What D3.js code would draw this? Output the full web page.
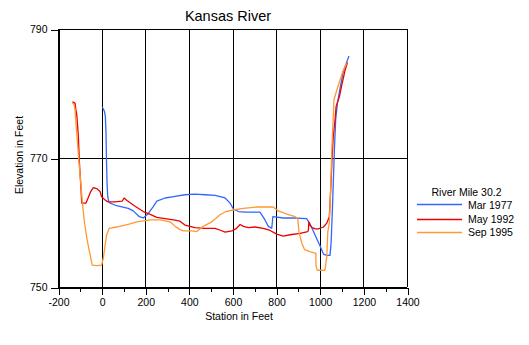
<!DOCTYPE html>
<html>
<head>
<meta charset="utf-8">
<script src="https://cdn.jsdelivr.net/npm/d3@7"></script>
<style>
  html, body { margin: 0; padding: 0; background: #fff; }
  svg { display: block; }
  text { font-family: Arial, "Liberation Sans", Helvetica, sans-serif; fill: #000; }
</style>
</head>
<body>
<div id="chart"></div>
<script>
// ---- data ----
const chartTitle = "Kansas River";
const xTitle = "Station in Feet";
const yTitle = "Elevation in Feet";
const legendTitle = "River Mile 30.2";
const seriesNames = ["Mar 1977", "May 1992", "Sep 1995"];
const seriesColors = ["#3366ff", "#ee0000", "#ff9933"];

const xMajorTicks = [-200, 0, 200, 400, 600, 800, 1000, 1200, 1400];
const xMinorTicks = [-100, 100, 300, 500, 700, 900, 1100, 1300];
const yTicks = [750, 770, 790];

// [station ft, elevation ft]
const mar1977 = [
  [3,777.9],[8,777.6],[13,777.2],[17,776.5],[20,774.0],[22,770.0],[25,766.0],[28,764.0],[33,763.2],
  [39,763.0],[69,762.6],[122,762.2],[145,761.8],[173,760.9],[191,760.7],[214,761.4],[235,762.4],
  [253,763.3],[291,763.8],[330,764.0],[382,764.3],[428,764.4],[475,764.3],[520,764.2],[566,763.8],
  [589,763.0],[604,762.1],[627,761.7],[658,761.6],[703,761.6],[726,761.6],[749,760.4],[764,759.4],
  [780,759.1],[785,760.9],[833,760.7],[879,760.7],[940,760.6],[955,759.8],[978,758.1],[1001,756.4],
  [1017,755.1],[1032,754.9],[1047,754.9],[1052,756.8],[1058,762.0],[1062,766.1],[1067,771.2],
  [1073,775.9],[1081,778.5],[1093,780.8],[1108,783.4],[1124,784.9],[1134,785.8]
];
const may1992 = [
  [-134,778.7],[-122,778.5],[-118,777.5],[-114,776.7],[-107,773.6],[-102,769.4],[-96,766.0],
  [-91,763.0],[-72,763.0],[-62,763.8],[-50,764.8],[-38,765.4],[-20,765.2],[-7,764.8],[0,764.0],
  [12,763.6],[23,763.3],[31,763.2],[60,763.2],[94,763.3],[103,763.8],[116,763.4],[150,762.6],
  [191,761.7],[220,761.3],[253,760.8],[291,760.6],[330,760.4],[359,760.2],[382,759.6],[428,759.2],
  [474,759.1],[520,759.1],[545,758.8],[566,758.5],[597,758.7],[615,759.0],[635,759.7],[650,759.4],
  [673,759.2],[703,759.3],[741,759.1],[770,758.8],[803,758.2],[833,757.9],[864,758.1],[910,758.3],
  [945,758.6],[948,758.8],[950,760.1],[955,759.6],[965,759.2],[980,759.0],[993,759.0],[1017,759.3],
  [1032,759.9],[1044,760.9],[1047,763.0],[1052,766.3],[1056,769.7],[1062,773.3],[1070,775.9],
  [1075,778.0],[1090,779.5],[1101,781.3],[1116,783.6],[1127,784.8]
];
const sep1995 = [
  [-134,778.6],[-125,778.2],[-122,777.5],[-119,775.9],[-111,772.5],[-104,769.4],[-96,766.3],
  [-88,763.0],[-79,760.1],[-68,757.6],[-56,755.5],[-43,753.4],[-22,753.3],[0,753.4],[8,754.5],
  [16,756.5],[23,758.1],[35,759.1],[69,759.3],[122,759.7],[161,760.1],[222,760.4],[268,760.4],
  [314,760.1],[337,759.4],[359,758.9],[375,758.7],[413,758.7],[436,758.6],[466,759.4],[505,760.1],
  [543,761.2],[570,761.7],[597,761.9],[650,762.2],[711,762.4],[787,762.4],[810,761.8],[849,761.3],
  [887,760.9],[899,760.6],[905,758.5],[910,757.8],[918,756.8],[930,755.8],[955,755.5],[982,755.2],
  [983,753.2],[989,752.6],[1024,752.6],[1032,754.7],[1037,758.6],[1044,759.9],[1050,765.1],
  [1055,771.2],[1062,776.4],[1065,779.0],[1078,780.5],[1093,782.1],[1108,783.6],[1124,784.7]
];
const seriesData = [mar1977, may1992, sep1995];

// ---- drawing ----
const W = 529, H = 345;
const svg = d3.select("#chart").append("svg").attr("width", W).attr("height", H);

const x = d3.scaleLinear().domain([-200, 1400]).range([58, 407]);
const y = d3.scaleLinear().domain([750, 790]).range([287, 29]);

// grid
const grid = svg.append("g").attr("shape-rendering", "crispEdges");
grid.selectAll("line.v").data(xMajorTicks).join("line")
  .attr("x1", d => Math.round(x(d)) + 0.5).attr("x2", d => Math.round(x(d)) + 0.5)
  .attr("y1", y(790)).attr("y2", y(750))
  .attr("stroke", "#000").attr("stroke-width", 1);
grid.selectAll("line.h").data(yTicks).join("line")
  .attr("x1", x(-200)).attr("x2", x(1400))
  .attr("y1", d => Math.round(y(d)) + 0.5).attr("y2", d => Math.round(y(d)) + 0.5)
  .attr("stroke", "#000").attr("stroke-width", 1);

// axes
const xAxisG = svg.append("g").attr("transform", `translate(0.5,${Math.round(y(750)) + 0.5})`);
xAxisG.call(d3.axisBottom(x).tickValues(xMajorTicks).tickSize(7).tickSizeOuter(0).tickPadding(4)
  .tickFormat(d => String(d)));
const xMinorG = svg.append("g").attr("transform", `translate(0.5,${Math.round(y(750)) + 0.5})`);
xMinorG.call(d3.axisBottom(x).tickValues(xMinorTicks).tickSize(4).tickSizeOuter(0).tickFormat(""));
xMinorG.select(".domain").remove();

const yAxisG = svg.append("g").attr("transform", `translate(${Math.round(x(-200)) + 0.5},0.5)`);
yAxisG.call(d3.axisLeft(y).tickValues(yTicks).tickSize(8).tickSizeOuter(0).tickPadding(3)
  .tickFormat(d => String(d)));

[xAxisG, xMinorG, yAxisG].forEach(g => {
  g.attr("shape-rendering", "crispEdges");
  g.selectAll("path, line").attr("stroke", "#000");
  g.selectAll("text").style("font-size", "10.5px")
    .style("font-family", "Arial, 'Liberation Sans', sans-serif").attr("fill", "#000");
});

// series
const line = d3.line().x(d => x(d[0])).y(d => y(d[1]));
svg.append("g").selectAll("path").data(seriesData).join("path")
  .attr("d", line)
  .attr("fill", "none")
  .attr("stroke", (d, i) => seriesColors[i])
  .attr("stroke-width", 1.3)
  .attr("stroke-linejoin", "round");

// titles
svg.append("text").attr("x", 228).attr("y", 21).attr("text-anchor", "middle")
  .style("font-size", "14.5px").text(chartTitle);
svg.append("text").attr("x", 239).attr("y", 320).attr("text-anchor", "middle")
  .style("font-size", "10.5px").text(xTitle);
svg.append("text").attr("transform", "translate(23,155) rotate(-90)").attr("text-anchor", "middle")
  .style("font-size", "10.5px").text(yTitle);

// legend
const lg = svg.append("g");
lg.append("text").attr("x", 466.5).attr("y", 196).attr("text-anchor", "middle")
  .style("font-size", "10.5px").text(legendTitle);
const legendRowsY = [204, 219, 232];
const legendTextY = [209, 223, 236];
seriesNames.forEach((name, i) => {
  lg.append("line").attr("x1", 417).attr("x2", 462)
    .attr("y1", legendRowsY[i] + 0.5).attr("y2", legendRowsY[i] + 0.5)
    .attr("stroke", seriesColors[i]).attr("stroke-width", 1.3);
  lg.append("text").attr("x", 468).attr("y", legendTextY[i])
    .style("font-size", "10.5px").text(name);
});
</script>
</body>
</html>
